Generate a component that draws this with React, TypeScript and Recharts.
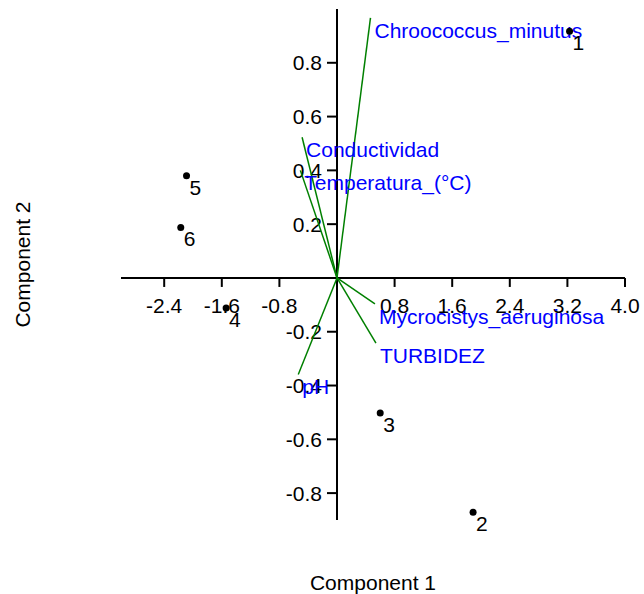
import { ReferenceLine, Scatter, ScatterChart, XAxis, YAxis } from 'recharts'

const samples = ['1', '2', '3', '4', '5', '6']
const comp1 = [3.23, 1.89, 0.6, -1.54, -2.09, -2.17]
const comp2 = [0.917, -0.871, -0.502, -0.112, 0.38, 0.188]

const variables = ['Chroococcus_minutus', 'Conductividad', 'Temperatura_(°C)', 'Mycrocistys_aeruginosa', 'TURBIDEZ', 'pH']
const loading1 = [0.465, -0.485, -0.509, 0.527, 0.541, -0.538]
const loading2 = [0.967, 0.523, 0.4, -0.096, -0.242, -0.359]

const xTicks = [-2.4, -1.6, -0.8, 0.8, 1.6, 2.4, 3.2, 4.0]
const yTicks = [0.8, 0.6, 0.4, 0.2, -0.2, -0.4, -0.6, -0.8]

const font = 'Liberation Sans, Arial, sans-serif'
const fontSize = 21

const points = samples.map((label, i) => ({ x: comp1[i], y: comp2[i], label }))
const vectors = variables.map((name, i) => [
  { x: 0, y: 0, label: '' },
  { x: loading1[i], y: loading2[i], label: name },
])
const xTickData = xTicks.map(t => ({ x: t, y: 0, label: t.toFixed(1) }))
const yTickData = yTicks.map(t => ({ x: 0, y: t, label: t.toFixed(1) }))

function XTick(props: any) {
  const { cx, cy, payload } = props
  return (
    <g>
      <line x1={cx} y1={cy} x2={cx} y2={cy + 9} stroke="#000" strokeWidth={2} />
      <text x={cx} y={cy + 35} textAnchor="middle" fontSize={fontSize} fontFamily={font} fill="#000">{payload.label}</text>
    </g>
  )
}

function YTick(props: any) {
  const { cx, cy, payload } = props
  return (
    <g>
      <line x1={cx - 10} y1={cy} x2={cx} y2={cy} stroke="#000" strokeWidth={2} />
      <text x={cx - 15} y={cy + 7.5} textAnchor="end" fontSize={fontSize} fontFamily={font} fill="#000">{payload.label}</text>
    </g>
  )
}

function SampleDot(props: any) {
  const { cx, cy, payload } = props
  return (
    <g>
      <circle cx={cx} cy={cy} r={3.5} fill="#000" />
      <text x={cx + 3} y={cy + 19} fontSize={fontSize} fontFamily={font} fill="#000">{payload.label}</text>
    </g>
  )
}

function VectorEnd(props: any) {
  const { cx, cy, payload } = props
  if (!payload.label) return <g />
  return (
    <text x={cx + 4} y={cy + 20} fontSize={fontSize} fontFamily={font} fill="#0000FF">{payload.label}</text>
  )
}

export default function App() {
  return (
    <div style={{ position: 'absolute', left: 0, top: 0, background: '#fff' }}>
      <ScatterChart width={644} height={594} margin={{ top: 9, right: 19, bottom: 0, left: 0 }} style={{ fontFamily: font }}>
        <XAxis type="number" dataKey="x" domain={[-3, 4]} height={74} tick={false} axisLine={false} tickLine={false}
          label={{ value: 'Component 1', position: 'insideBottom', offset: 4, fill: '#000', fontSize }} />
        <YAxis type="number" dataKey="y" domain={[-0.9, 1.0]} width={121} tick={false} axisLine={false} tickLine={false}
          label={{ value: 'Component 2', angle: -90, position: 'insideLeft', offset: 23, fill: '#000', fontSize, style: { textAnchor: 'middle' } }} />
        <ReferenceLine x={0} stroke="#000" strokeWidth={2} />
        <ReferenceLine y={0} stroke="#000" strokeWidth={2} />
        <Scatter data={xTickData} shape={XTick} isAnimationActive={false} />
        <Scatter data={yTickData} shape={YTick} isAnimationActive={false} />
        {vectors.map((v, i) => (
          <Scatter key={i} data={v} line={{ stroke: '#008000', strokeWidth: 1.5 }} lineType="joint" shape={VectorEnd} isAnimationActive={false} />
        ))}
        <Scatter data={points} shape={SampleDot} isAnimationActive={false} />
      </ScatterChart>
    </div>
  )
}
